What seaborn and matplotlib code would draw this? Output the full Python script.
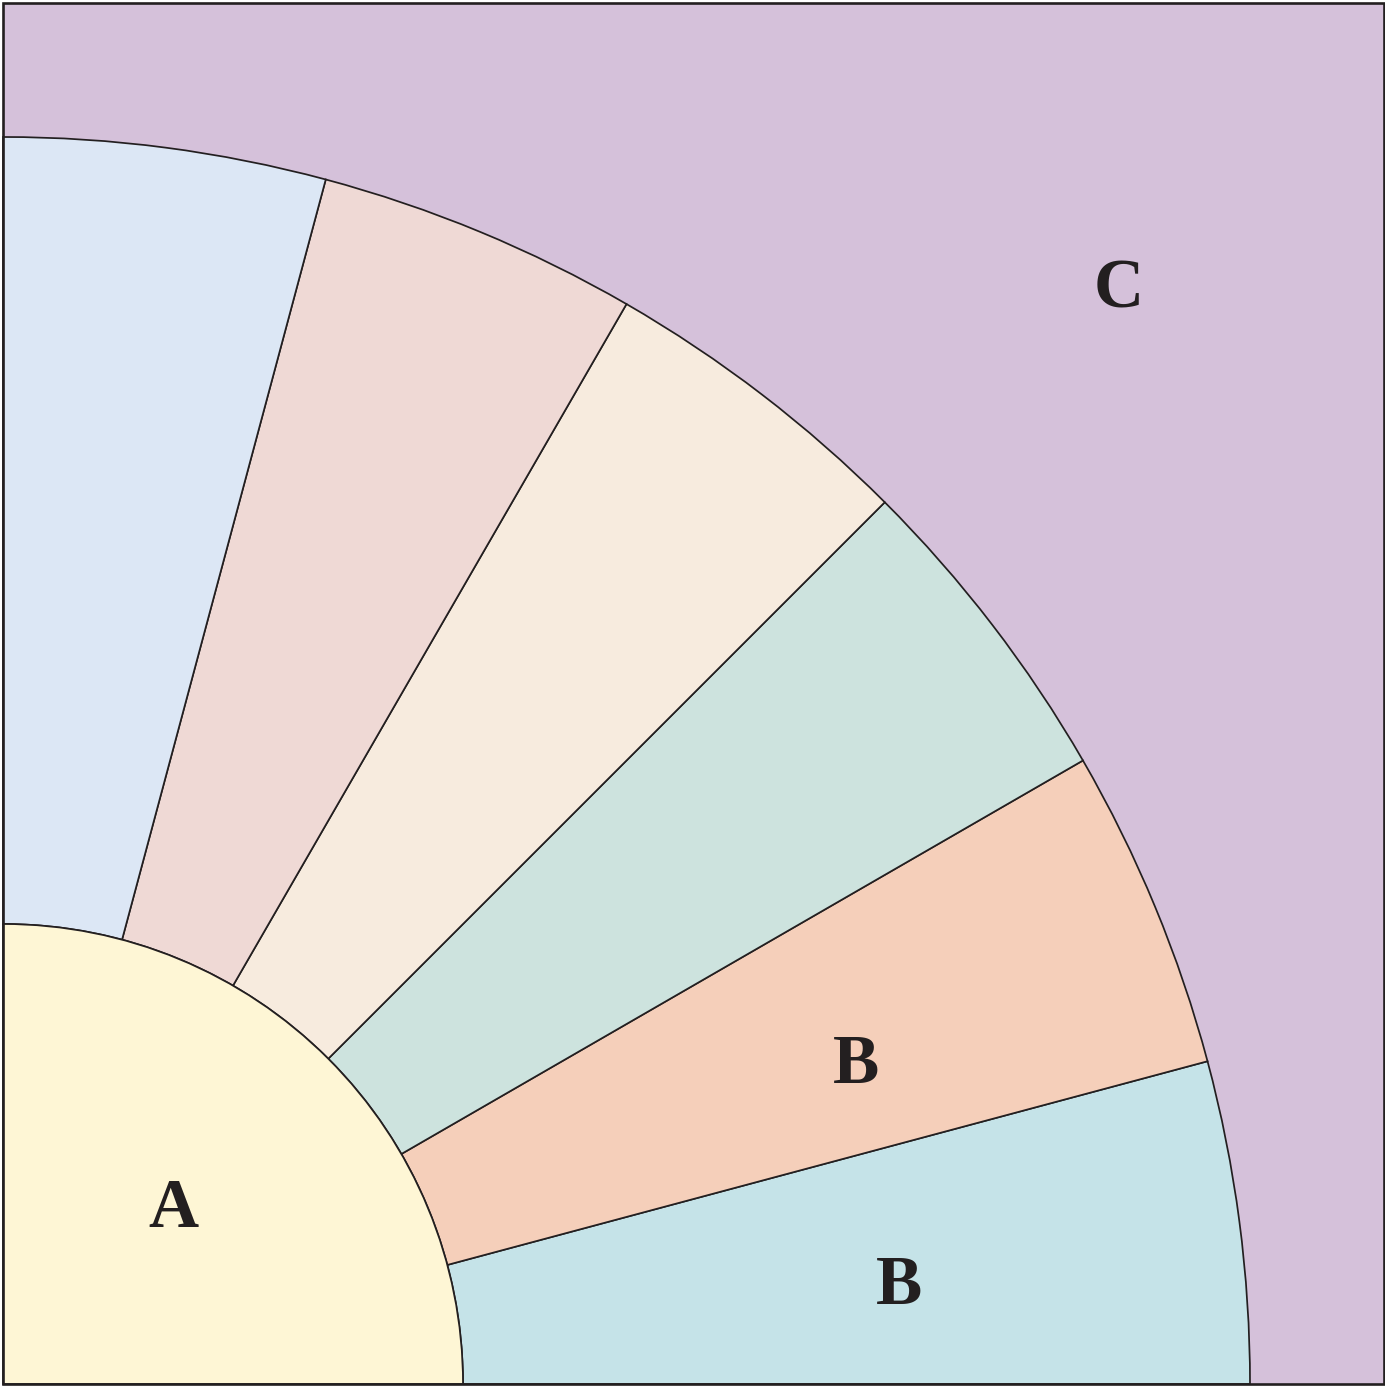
import matplotlib
matplotlib.use('Agg')
import matplotlib.pyplot as plt
import seaborn as sns
from matplotlib.patches import Wedge, Rectangle

sns.set_theme(style='white')
plt.rcParams['font.family'] = ['Liberation Serif', 'DejaVu Serif']

# block geometry (units = pixels of the reference)
block_size = 1381
inner_radius = 460
outer_radius = 1247

# ring pieces: start/end angle in degrees, colour
wedge_starts = [0, 15, 30, 45, 60, 75]
wedge_ends = [15, 30, 45, 60, 75, 90]
wedge_colors = ['#c5e3e8', '#f5cfba', '#cde3de', '#f7ebde', '#efd9d5', '#dce7f5']

center_color = '#fef6d5'
background_color = '#d5c1da'

# piece labels
label_text = ['C', 'B', 'B', 'A']
label_x = [1116, 853, 896, 170]
label_y = [1093, 318, 97, 174]

fig = plt.figure(figsize=(13.85, 13.87), dpi=100)
ax = fig.add_axes([0, 0, 1, 1])
ax.set_xlim(-3, 1382)
ax.set_ylim(-3, 1384)
ax.set_aspect('auto')
ax.axis('off')

line = '#231f20'
ax.add_patch(Rectangle((0, 0), block_size, block_size, facecolor=background_color,
                       edgecolor='none', zorder=1))

for a0, a1, c in zip(wedge_starts, wedge_ends, wedge_colors):
    ax.add_patch(Wedge((0, 0), outer_radius, a0, a1, width=outer_radius - inner_radius,
                       facecolor=c, edgecolor=line, linewidth=1.25, zorder=2))

ax.add_patch(Wedge((0, 0), inner_radius, 0, 90, facecolor=center_color,
                   edgecolor=line, linewidth=1.25, zorder=3))

ax.add_patch(Rectangle((0, 0), block_size, block_size, facecolor='none',
                       edgecolor=line, linewidth=1.9, zorder=4))

for t, x, y in zip(label_text, label_x, label_y):
    ax.text(x, y, t, fontsize=50, fontweight='bold', color=line,
            ha='center', va='center', zorder=5)

fig.savefig('out.png', dpi=100)
